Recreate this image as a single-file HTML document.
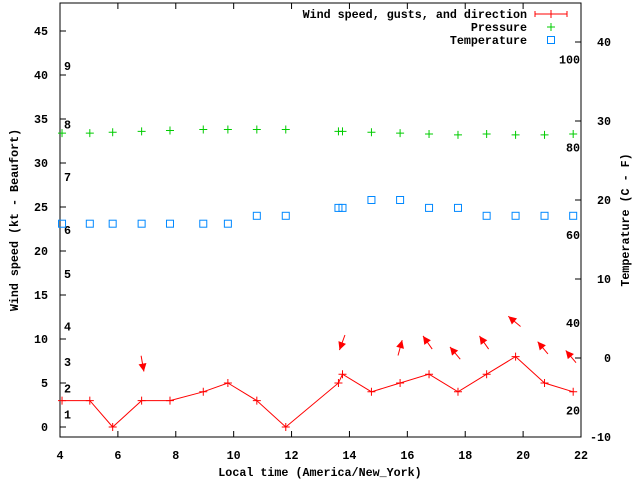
<!DOCTYPE html>
<html><head><meta charset="utf-8"><style>
html,body{margin:0;padding:0;background:#fff;}
svg text{font-family:"Liberation Mono","DejaVu Sans Mono",monospace;font-size:11.7px;font-weight:bold;fill:#000;}
</style></head><body>
<svg id="chart" width="640" height="480" viewBox="0 0 640 480" xmlns="http://www.w3.org/2000/svg">
<rect x="0" y="0" width="640" height="480" fill="#fff"/>
<g id="axes"></g>
<g id="marks"></g>
<g id="legend">
 <text x="527" y="18" text-anchor="end">Wind speed, gusts, and direction</text>
 <line x1="535" y1="14" x2="567" y2="14" stroke="#f00" stroke-width="1"/>
 <line x1="535" y1="11" x2="535" y2="17" stroke="#f00"/><line x1="567" y1="11" x2="567" y2="17" stroke="#f00"/>
 <line x1="551" y1="10" x2="551" y2="18" stroke="#f00"/>
 <text x="527" y="31" text-anchor="end">Pressure</text>
 <path d="M547 27h8M551 23v8" stroke="#0c0" fill="none"/>
 <text x="527" y="44" text-anchor="end">Temperature</text>
 <rect x="547.5" y="36.5" width="7" height="7" fill="none" stroke="#08f"/>
</g>
</svg>
<script>
const times=[4.07,5.03,5.82,6.82,7.8,8.95,9.8,10.8,11.8,13.62,13.76,14.76,15.75,16.75,17.75,18.74,19.74,20.74,21.73];
const windKt=[3,3,0,3,3,4,5,3,0,5,6,4,5,6,4,6,8,5,4];
const pressure=[33.4,33.4,33.5,33.6,33.7,33.8,33.8,33.8,33.8,33.6,33.6,33.5,33.4,33.3,33.2,33.3,33.2,33.2,33.3];
const tempC=[17,17,17,17,17,17,17,18,18,19,19,20,20,19,19,18,18,18,18];
const arrowTimes=[6.85,13.75,15.75,16.7,17.65,18.65,19.7,20.68,21.65];
const arrowKt=[7.2,9.6,9.0,9.6,8.4,9.6,12.0,9.0,8.0];
const arrowDeg=[170,200,15,325,320,325,310,320,320];
const xTicks=[4,6,8,10,12,14,16,18,20,22];
const yTicks=[0,5,10,15,20,25,30,35,40,45];
const cTicks=[-10,0,10,20,30,40];
const fTicks=[20,40,60,80,100];
const beaufort=[1,2,3,4,5,6,7,8,9];
const beaufortKt=[1.4,4.4,7.4,11.4,17.4,22.4,28.4,34.4,41];

const X0=60,X1=581,Y0=437,YT=3;
const xs=t=>X0+(t-4)*(X1-X0)/18;
const ys=v=>427-v*8.8;
const yc=c=>358-c*7.9;
const yf=f=>yc((f-32)*5/9);
const NS="http://www.w3.org/2000/svg";
function mk(tag,attrs,parent,txt){const e=document.createElementNS(NS,tag);for(const k in attrs)e.setAttribute(k,attrs[k]);if(txt!==undefined)e.textContent=txt;parent.appendChild(e);return e;}
const axes=document.getElementById('axes'),marks=document.getElementById('marks');

let fr=mk('rect',{x:X0,y:YT,width:X1-X0,height:Y0-YT,fill:'none',stroke:'#000'},axes);


xTicks.forEach(t=>{const x=xs(t);
 mk('line',{x1:x,y1:Y0,x2:x,y2:Y0-6,stroke:'#000'},axes);
 mk('line',{x1:x,y1:YT,x2:x,y2:YT+6,stroke:'#000'},axes);
 const l=mk('text',{x:x,y:Y0+22,'text-anchor':'middle'},axes,String(t));
 
 });
yTicks.forEach(v=>{const y=ys(v);
 mk('line',{x1:X0,y1:y,x2:X0+6,y2:y,stroke:'#000'},axes);
 const l=mk('text',{x:48,y:y+4,'text-anchor':'end'},axes,String(v));
 
 });
cTicks.forEach(v=>{const y=yc(v);
 mk('line',{x1:X1,y1:y,x2:X1-6,y2:y,stroke:'#000'},axes);
 const l=mk('text',{x:611,y:y+4,'text-anchor':'end'},axes,String(v));
 
 });
fTicks.forEach(v=>{const l=mk('text',{x:580,y:yf(v)+4,'text-anchor':'end'},axes,String(v));
 
 });
beaufort.forEach((b,i)=>{const l=mk('text',{x:64,y:ys(beaufortKt[i])+4},axes,String(b));
 
 });
let xt=mk('text',{x:320,y:476,'text-anchor':'middle'},axes,'Local time (America/New_York)');


let yt=mk('text',{x:0,y:0,'text-anchor':'middle',transform:'translate(18,220) rotate(-90)'},axes,'Wind speed (kt - Beaufort)');


let y2=mk('text',{x:0,y:0,'text-anchor':'middle',transform:'translate(629,220) rotate(-90)'},axes,'Temperature (C - F)');



pressure.forEach((p,i)=>{const x=xs(times[i]),y=ys(p);
 const e=mk('path',{d:`M${x-4} ${y}h8M${x} ${y-4}v8`,stroke:'#0c0',fill:'none'},marks);
 
 });
tempC.forEach((c,i)=>{const x=xs(times[i]),y=yc(c);
 const e=mk('rect',{x:x-3.5,y:y-3.5,width:7,height:7,fill:'none',stroke:'#08f'},marks);
 
 });
const pts=times.map((t,i)=>xs(t)+','+ys(windKt[i])).join(' ');
const wl=mk('polyline',{points:pts,fill:'none',stroke:'#f00'},marks);


windKt.forEach((w,i)=>{const x=xs(times[i]),y=ys(w);
 const e=mk('path',{d:`M${x-4} ${y}h8M${x} ${y-4}v8`,stroke:'#f00',fill:'none'},marks);
 
 });
arrowTimes.forEach((t,i)=>{const cx=xs(t),cy=ys(arrowKt[i]);
 const a=arrowDeg[i]*Math.PI/180,dx=Math.sin(a),dy=-Math.cos(a),L=8;
 const x1=cx-dx*L,y1=cy-dy*L,x2=cx+dx*L,y2=cy+dy*L;
 const g=mk('g',{},marks);
 
 
 mk('line',{x1:x1,y1:y1,x2:x2,y2:y2,stroke:'#f00'},g);
 const px=-dy,py=dx;
 mk('polygon',{points:`${x2},${y2} ${x2-dx*8+px*4},${y2-dy*8+py*4} ${x2-dx*8-px*4},${y2-dy*8-py*4}`,fill:'#f00'},g);});
</script>
</body></html>
